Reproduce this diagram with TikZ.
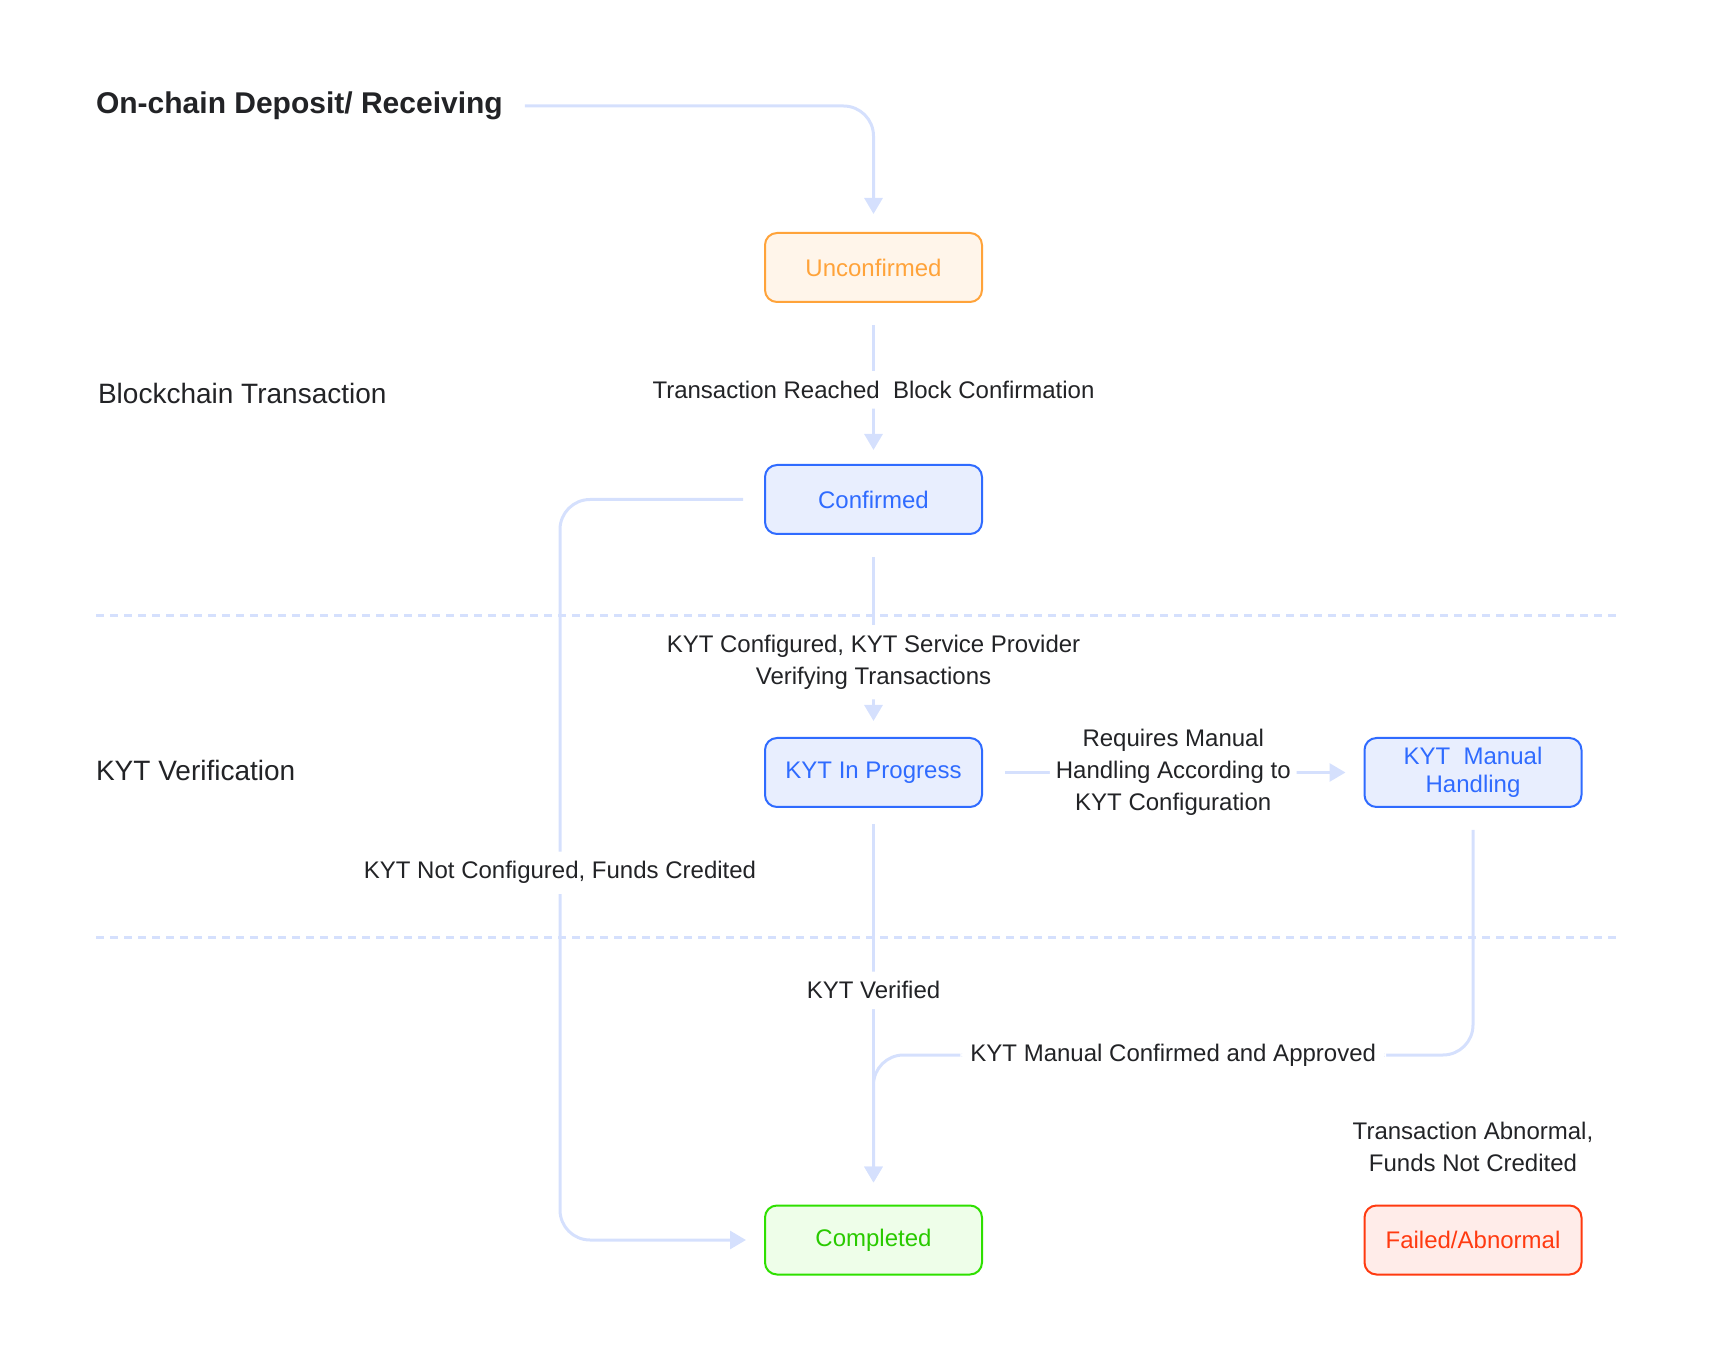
\documentclass[tikz,border=0pt]{standalone}
\usepackage{fontspec}
\setmainfont{Liberation Sans}
\usetikzlibrary{arrows.meta, positioning, calc}
\definecolor{conn}{HTML}{D5E0FD}
\definecolor{ink}{HTML}{222326}
\definecolor{orgline}{HTML}{FFA33A}
\definecolor{orgfill}{HTML}{FFF5EA}
\definecolor{bluline}{HTML}{2F6BFF}
\definecolor{blufill}{HTML}{E8EEFE}
\definecolor{grnline}{HTML}{2EE000}
\definecolor{grnfill}{HTML}{EEFEE9}
\definecolor{redline}{HTML}{FF3A10}
\definecolor{redfill}{HTML}{FFECE9}
\tikzset{
  blk/.style={
    draw, rounded corners=6pt, line width=1pt,
    minimum width=108.5pt, minimum height=34.5pt,
    align=center, inner sep=2pt,
    font=\fontsize{12}{14}\selectfont
  },
  blkorg/.style={blk, draw=orgline, fill=orgfill, text=orgline},
  blkblu/.style={blk, draw=bluline, fill=blufill, text=bluline},
  blkgrn/.style={blk, draw=grnline, fill=grnfill, text=grnline!90!black},
  blkred/.style={blk, draw=redline, fill=redfill, text=redline},
  sig/.style={-{Triangle[length=8pt,width=9pt]}, line width=1.5pt,
    draw=conn, rounded corners=15pt},
  lbl/.style={font=\fontsize{12}{16}\selectfont, text=ink, fill=white,
    align=center, inner sep=5pt},
  grp/.style={font=\fontsize{14}{16}\selectfont, text=ink, anchor=west},
  sep/.style={draw=conn, line width=1.5pt, dash pattern=on 4pt off 3pt}
}

\begin{document}
\begin{tikzpicture}[x=0.5pt, y=-0.5pt]

  \useasboundingbox (0,0) rectangle (1715,1363);

  % headings
  \node[grp, font=\fontsize{15}{17}\selectfont\bfseries] (title) at (89,106)
        {On-chain Deposit/ Receiving};
  \node[grp] (hbc)  at (91,393) {Blockchain Transaction};
  \node[grp] (hkyt) at (89,770) {KYT Verification};

  % states
  \node[blkorg] (unc)  at (873.5,267.5) {Unconfirmed};
  \node[blkblu] (conf) at (873.5,499.5) {Confirmed};
  \node[blkblu] (kyt)  at (873.5,772.5) {KYT In Progress};
  \node[blkblu] (man)  at (1473,772.5)  {KYT\ \ Manual\\Handling};
  \node[blkgrn] (comp) at (873.5,1240)  {Completed};
  \node[blkred] (fail) at (1473,1240)   {Failed/Abnormal};

  \node[lbl, above=11pt of fail] (abn)
        {Transaction Abnormal,\\Funds Not Credited};

  % separators
  \draw[sep] (96,616) -- (1619,616);
  \draw[sep] (96,937) -- (1619,937);

  % transitions
  \draw[sig] ([xshift=7.5pt]title.east) -| ([yshift=9pt]unc.north);
  \draw[sig, shorten <=11pt, shorten >=7pt] (unc) --
        node[lbl, pos=0.54] {Transaction Reached\ \ Block Confirmation} (conf);
  \draw[sig, shorten <=11pt, shorten >=8pt] (conf) --
        node[lbl, pos=0.63] {KYT Configured, KYT Service Provider\\Verifying Transactions} (kyt);
  \draw[sig, shorten <=11pt, shorten >=9pt] (kyt) --
        node[lbl, pos=0.5, inner sep=3pt] {Requires Manual\\Handling According to\\KYT Configuration} (man);
  \draw[sig, shorten <=8pt, shorten >=11pt] (kyt) --
        node[lbl, pos=0.46] {KYT Verified} (comp);

  \coordinate (mrg) at (comp.north |- 0,1055);
  \draw[sig] ([yshift=-11pt]man.south) |-
        node[lbl, pos=0.75] {KYT Manual Confirmed and Approved} (mrg)
        -- ([yshift=11pt]comp.north);

  \draw[sig] ([xshift=-10.5pt]conf.west) -|
        node[lbl, pos=0.752] {KYT Not Configured, Funds Credited} (560,1240)
        -- ([xshift=-9pt]comp.west);

\end{tikzpicture}
\end{document}
